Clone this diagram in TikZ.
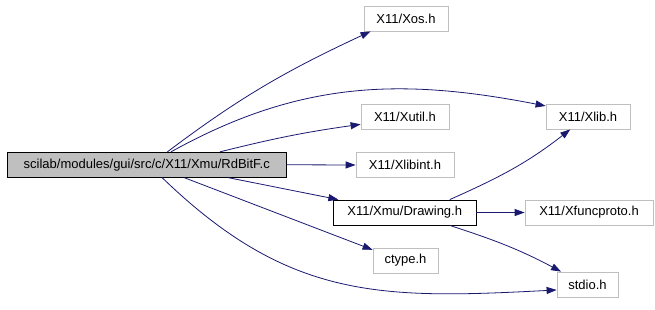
\documentclass[tikz,border=0pt]{standalone}
\usepackage{fontspec}
\setmainfont{Liberation Sans}
\usetikzlibrary{arrows.meta}
\definecolor{edgeblue}{RGB}{25,25,112}
\definecolor{boxgray}{RGB}{191,191,191}
\tikzset{
  hdrbox/.style={draw=boxgray, line width=0.8pt, minimum height=25pt, inner sep=0pt,
                 font=\fontsize{13}{15}\selectfont},
  srcbox/.style={hdrbox, draw=black, fill=boxgray},
  linkbox/.style={hdrbox, draw=black},
  incarr/.style={-{Triangle[length=10pt,width=7pt]}, edgeblue, line width=0.8pt},
}
\begin{document}
\begin{tikzpicture}[x=1pt, y=-1pt]
  \useasboundingbox (0,0) rectangle (655,309);
  % header boxes
  \node[srcbox, minimum width=278.5pt] (rdbitf) at (146.75,164.75) {scilab/modules/gui/src/c/X11/Xmu/RdBitF.c};
  \node[hdrbox, minimum width=84pt] (xos) at (406,18.5) {X11/Xos.h};
  \node[hdrbox, minimum width=84pt] (xlib) at (588,116.5) {X11/Xlib.h};
  \node[hdrbox, minimum width=88pt] (xutil) at (405,116.5) {X11/Xutil.h};
  \node[hdrbox, minimum width=98pt] (xlibint) at (405,165) {X11/Xlibint.h};
  \node[linkbox, minimum width=142.5pt] (drawing) at (404.75,212.5) {X11/Xmu/Drawing.h};
  \node[hdrbox, minimum width=128pt] (xfuncproto) at (589,212.5) {X11/Xfuncproto.h};
  \node[hdrbox, minimum width=65pt] (ctype) at (405.5,260.5) {ctype.h};
  \node[hdrbox, minimum width=61pt] (stdio) at (587.5,284.5) {stdio.h};
  % includes
  \draw[incarr] (rdbitf.32.5) to[out=37, in=205] (xos.200.5);
  \draw[incarr] (rdbitf.28.3) to[out=29, in=169] (xlib.166);
  \draw[incarr] (rdbitf.10.5) to[out=14, in=188] (xutil.190.9);
  \draw[incarr] (rdbitf.east) -- (xlibint.west);
  \draw[incarr] (rdbitf.-9.5) -- (drawing.169.4);
  \draw[incarr] (rdbitf.-19.7) -- (ctype.162);
  \draw[incarr] (rdbitf.-40.7) to[out=-44, in=183, looseness=1.1] (stdio.190);
  \draw[incarr] (drawing.16.5) to[out=24, in=218] (xlib.216.3);
  \draw[incarr] (drawing.east) -- (xfuncproto.west);
  \draw[incarr] (drawing.-16.5) to[out=-18, in=152] (stdio.154.7);
\end{tikzpicture}
\end{document}
